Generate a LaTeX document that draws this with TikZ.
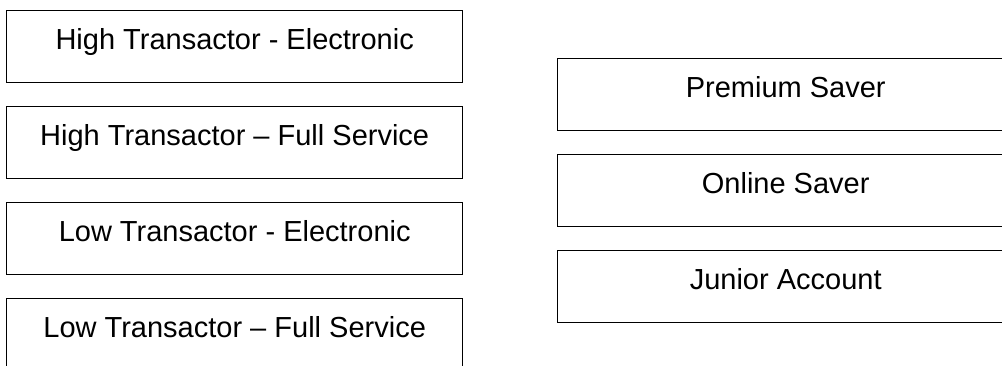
\documentclass[tikz,border=0pt]{standalone}
\usepackage{fontspec}
\setmainfont{Liberation Sans}
\begin{document}
\begin{tikzpicture}[x=1pt,y=-1pt,
  acct/.style={draw=black, line width=1.4pt, rectangle, inner sep=0pt, anchor=north west, minimum height=72pt},
  lbl/.style={anchor=base, font=\fontsize{29}{33}\selectfont, inner sep=0pt}]
\useasboundingbox (0,0) rectangle (1002,365);
\clip (0,0) rectangle (1002,365);
\fill[white] (0,0) rectangle (1002,365);
\node[acct, minimum width=456pt] (l1) at (6,10) {};
\node[acct, minimum width=456pt] (l2) at (6,106) {};
\node[acct, minimum width=456pt] (l3) at (6,202) {};
\node[acct, minimum width=456pt] (l4) at (6,298) {};
\node[acct, minimum width=456pt] (r1) at (557,58) {};
\node[acct, minimum width=456pt] (r2) at (557,154) {};
\node[acct, minimum width=456pt] (r3) at (557,250) {};
\node[lbl] (t1) at ([yshift=-39pt]l1.north) {High Transactor - Electronic};
\node[lbl] (t2) at ([yshift=-39pt]l2.north) {High Transactor – Full Service};
\node[lbl] (t3) at ([yshift=-39pt]l3.north) {Low Transactor - Electronic};
\node[lbl] (t4) at ([yshift=-39pt]l4.north) {Low Transactor – Full Service};
\node[lbl] (u1) at ([yshift=-39pt]r1.north) {Premium Saver};
\node[lbl] (u2) at ([yshift=-39pt]r2.north) {Online Saver};
\node[lbl] (u3) at ([yshift=-39pt]r3.north) {Junior Account};
\end{tikzpicture}
\end{document}
